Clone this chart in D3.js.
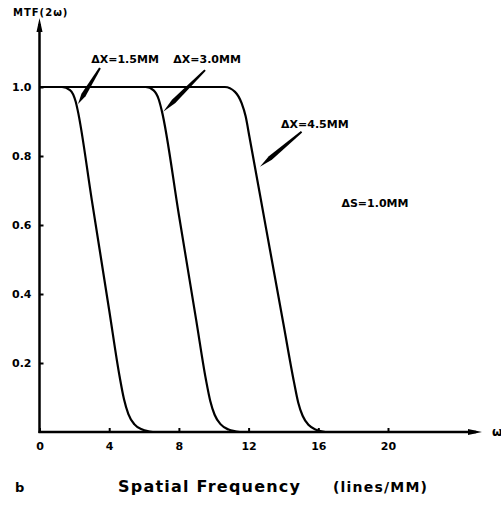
<!DOCTYPE html>
<html>
<head>
<meta charset="utf-8">
<script src="https://cdn.jsdelivr.net/npm/d3@7"></script>
<style>
  body { margin: 0; background: #fff; }
  text { font-family: "DejaVu Sans", sans-serif; fill: #000; }
</style>
</head>
<body>
<div id="chart"></div>
<script>
// spatial frequency (lines/mm) and MTF values
const freq15 = [0, 1.29, 1.75, 2.08, 2.19, 3.0, 4.0, 4.6, 4.85, 5.1, 5.45, 5.9, 6.5];
const mtf15  = [1.0, 1.0, 0.991, 0.957, 0.933, 0.673, 0.353, 0.16, 0.095, 0.052, 0.022, 0.007, 0];
const freq30 = [0, 6.1, 6.55, 6.85, 7.01, 8.0, 9.0, 9.55, 9.8, 10.05, 10.4, 10.85, 11.5];
const mtf30  = [1.0, 1.0, 0.99, 0.963, 0.933, 0.629, 0.322, 0.152, 0.09, 0.05, 0.022, 0.007, 0];
const freq45 = [0, 10.64, 11.22, 11.60, 11.83, 12.05, 13.0, 14.0, 14.6, 14.85, 15.1, 15.45, 15.9, 16.4];
const mtf45  = [1.0, 1.0, 0.986, 0.953, 0.915, 0.855, 0.591, 0.313, 0.146, 0.085, 0.047, 0.02, 0.006, 0];

const xTicks = [0, 4, 8, 12, 16, 20];
const yTicks = [0.2, 0.4, 0.6, 0.8, 1.0];

// annotation labels and their leader lines (data coordinates)
const labels = ["\u0394X=1.5MM", "\u0394X=3.0MM", "\u0394X=4.5MM", "\u0394S=1.0MM"];
const labelX = [4.91, 9.62, 15.8, 19.25];
const labelY = [1.078, 1.078, 0.89, 0.66];
const leadFromX = [3.47, 9.50, 15.04];
const leadFromY = [1.055, 1.049, 0.870];
const leadToX = [2.21, 7.10, 12.65];
const leadToY = [0.951, 0.928, 0.769];

const width = 501, height = 505;

const svg = d3.select("#chart").append("svg")
    .attr("width", width)
    .attr("height", height);

const x = d3.scaleLinear().domain([0, 20]).range([39.5, 388]);
const y = d3.scaleLinear().domain([0, 1]).range([432, 87]);

// axes (ticks point inward)
const xAxis = svg.append("g")
    .attr("transform", "translate(0," + y(0) + ")")
    .call(d3.axisBottom(x).tickValues(xTicks).tickSizeInner(-4).tickSizeOuter(0).tickPadding(10));
xAxis.select(".domain").remove();
xAxis.selectAll(".tick line").attr("stroke-width", 2);
xAxis.selectAll(".tick text")
    .style("font-size", "11px").style("font-weight", "bold");

const yAxis = svg.append("g")
    .attr("transform", "translate(" + x(0) + ",0)")
    .call(d3.axisLeft(y).tickValues(yTicks).tickSizeInner(-4).tickSizeOuter(0)
        .tickPadding(8).tickFormat(d3.format(".1f")));
yAxis.select(".domain").remove();
yAxis.selectAll(".tick line").attr("stroke-width", 2);
yAxis.selectAll(".tick text")
    .style("font-size", "11px").style("font-weight", "bold");

// axis lines with arrow heads
svg.append("line")
    .attr("x1", x(0)).attr("y1", y(0) + 1)
    .attr("x2", x(0)).attr("y2", 24)
    .attr("stroke", "#000").attr("stroke-width", 2.5);
svg.append("path")
    .attr("d", "M" + (x(0) - 3) + ",32 L" + x(0) + ",18 L" + (x(0) + 3) + ",32 Z")
    .attr("fill", "#000");
svg.append("line")
    .attr("x1", x(0) - 1).attr("y1", y(0))
    .attr("x2", 476).attr("y2", y(0))
    .attr("stroke", "#000").attr("stroke-width", 2.5);
svg.append("path")
    .attr("d", "M468," + (y(0) - 3) + " L482," + y(0) + " L468," + (y(0) + 3) + " Z")
    .attr("fill", "#000");

// curves
const line = d3.line()
    .x(d => x(d[0]))
    .y(d => y(d[1]))
    .curve(d3.curveMonotoneX);

[[freq15, mtf15], [freq30, mtf30], [freq45, mtf45]].forEach(([fx, my]) => {
    svg.append("path")
        .datum(d3.zip(fx, my))
        .attr("d", line)
        .attr("fill", "none")
        .attr("stroke", "#000")
        .attr("stroke-width", 2.2);
});

// leader lines (tapered toward the curve)
leadFromX.forEach((fx, i) => {
    const x1 = x(fx), y1 = y(leadFromY[i]);
    const x2 = x(leadToX[i]), y2 = y(leadToY[i]);
    const dx = x2 - x1, dy = y2 - y1, len = Math.hypot(dx, dy);
    const nx = -dy / len, ny = dx / len;
    const mx = x1 + dx * 0.75, my = y1 + dy * 0.75;
    svg.append("path")
        .attr("d", "M" + (x1 + nx) + "," + (y1 + ny) +
            " L" + (mx + nx * 2.4) + "," + (my + ny * 2.4) +
            " L" + x2 + "," + y2 +
            " L" + (mx - nx * 2.4) + "," + (my - ny * 2.4) +
            " L" + (x1 - nx) + "," + (y1 - ny) + " Z")
        .attr("fill", "#000");
});

// annotation texts
svg.selectAll(".note")
    .data(labels)
    .enter()
    .append("text")
    .attr("class", "note")
    .attr("x", (d, i) => x(labelX[i]))
    .attr("y", (d, i) => y(labelY[i]))
    .attr("text-anchor", "middle")
    .attr("dominant-baseline", "middle")
    .style("font-size", "11px")
    .style("font-weight", "bold")
    .text(d => d);

// axis titles
svg.append("text")
    .attr("x", 13).attr("y", 16)
    .style("font-size", "10px").style("font-weight", "bold")
    .style("letter-spacing", "1px")
    .text("MTF(2\u03c9)");

svg.append("text")
    .attr("x", 492).attr("y", y(0) + 4)
    .style("font-size", "12px").style("font-weight", "bold")
    .text("\u03c9");

svg.append("text")
    .attr("x", 118).attr("y", 492)
    .style("font-size", "16px").style("font-weight", "bold")
    .attr("textLength", 182)
    .text("Spatial Frequency");

svg.append("text")
    .attr("x", 333).attr("y", 492)
    .style("font-size", "14px").style("font-weight", "bold")
    .attr("textLength", 94)
    .text("(lines/MM)");

svg.append("text")
    .attr("x", 15).attr("y", 492)
    .style("font-size", "13px").style("font-weight", "bold")
    .text("b");
</script>
</body>
</html>
